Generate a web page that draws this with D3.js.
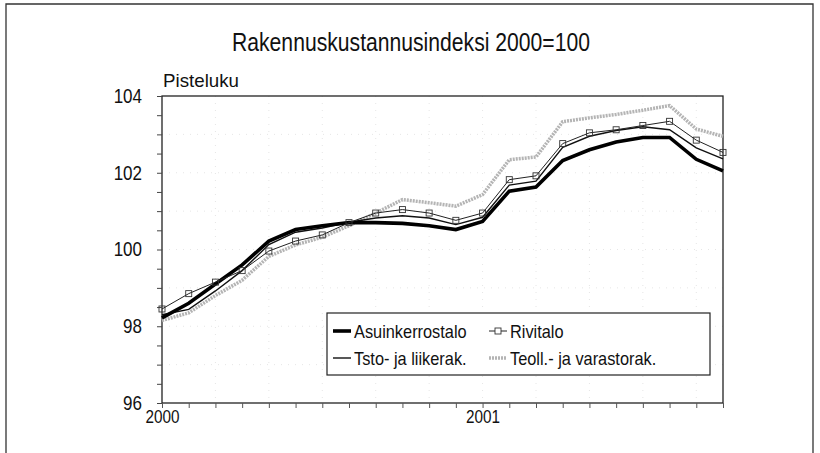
<!DOCTYPE html>
<html>
<head>
<meta charset="utf-8">
<script src="https://cdn.jsdelivr.net/npm/d3@7"></script>
<style>
  body { margin: 0; background: #fff; }
  svg { display: block; font-family: "Liberation Sans", Arial, sans-serif; }
</style>
</head>
<body>
<div id="chart"></div>
<script>
// Months Jan 2000 .. Oct 2001 (index 0..21)
const months = d3.range(0, 22);
const yearLabels = { 0: "2000", 12: "2001" };

const asuinkerrostalo = [98.22, 98.6, 99.1, 99.6, 100.22, 100.52, 100.62, 100.7, 100.7, 100.68, 100.62, 100.52,
                         100.73, 101.52, 101.63, 102.32, 102.6, 102.8, 102.92, 102.92, 102.35, 102.05];
const rivitalo = [98.45, 98.85, 99.15, 99.45, 99.96, 100.22, 100.38, 100.7, 100.95, 101.04, 100.95, 100.76,
                  100.95, 101.82, 101.92, 102.76, 103.04, 103.12, 103.23, 103.34, 102.85, 102.53];
const tstoLiikerak = [98.3, 98.44, 98.92, 99.45, 100.13, 100.45, 100.56, 100.71, 100.82, 100.88, 100.82, 100.65,
                      100.84, 101.68, 101.78, 102.66, 102.95, 103.1, 103.2, 103.12, 102.65, 102.36];
const teollVarastorak = [98.15, 98.35, 98.8, 99.2, 99.82, 100.12, 100.32, 100.62, 100.95, 101.3, 101.22, 101.13,
                         101.43, 102.34, 102.41, 103.33, 103.43, 103.52, 103.63, 103.75, 103.14, 102.95];

const yTicks = d3.range(96, 104.01, 0.5);

// squeeze text horizontally, the original uses a narrow font
function condense(sel, k) {
  sel.each(function() {
    const len = this.getComputedTextLength();
    if (len > 0) {
      d3.select(this).attr("textLength", len * k).attr("lengthAdjust", "spacingAndGlyphs");
    }
  });
}

document.addEventListener("DOMContentLoaded", function() {
  const width = 820, height = 453;
  const svg = d3.select("#chart").append("svg")
    .attr("width", width)
    .attr("height", height);

  // Outer frame (left, top, right)
  svg.append("path")
    .attr("d", "M6,453 V4 H813 V453")
    .attr("fill", "none")
    .attr("stroke", "#333")
    .attr("stroke-width", 1.3);

  // Plot area
  const left = 162, right = 723, top = 96, bottom = 403;
  const x = d3.scaleLinear().domain([0, 21]).range([left, right]);
  const y = d3.scaleLinear().domain([96, 104]).range([bottom, top]);

  // Title and unit label
  svg.append("text")
    .attr("x", 411).attr("y", 51)
    .attr("text-anchor", "middle")
    .style("font-size", "25px")
    .attr("fill", "#111")
    .attr("textLength", 358).attr("lengthAdjust", "spacingAndGlyphs")
    .text("Rakennuskustannusindeksi 2000=100");

  svg.append("text")
    .attr("x", 163).attr("y", 87)
    .style("font-size", "19px")
    .attr("fill", "#111")
    .attr("textLength", 76).attr("lengthAdjust", "spacingAndGlyphs")
    .text("Pisteluku");

  // Faint dotted grid
  const grid = svg.append("g").attr("stroke", "#e6e6e6").attr("stroke-dasharray", "1,6");
  grid.selectAll("line.v").data(months.filter(m => m > 0 && m % 2 === 0))
    .enter().append("line")
    .attr("x1", d => x(d)).attr("x2", d => x(d))
    .attr("y1", top).attr("y2", bottom);
  grid.selectAll("line.h").data(yTicks.filter(v => v > 96 && v < 104 && v % 1 === 0))
    .enter().append("line")
    .attr("x1", left).attr("x2", right)
    .attr("y1", d => y(d)).attr("y2", d => y(d));

  // Plot box
  svg.append("rect")
    .attr("x", left).attr("y", top)
    .attr("width", right - left).attr("height", bottom - top)
    .attr("fill", "none")
    .attr("stroke", "#222")
    .attr("stroke-width", 1.3);

  // Axes
  const yAxis = svg.append("g")
    .attr("transform", `translate(${left},0)`)
    .call(d3.axisLeft(y).tickValues(yTicks).tickSize(5).tickPadding(15)
      .tickFormat(d => (d % 2 === 0 ? d : "")));
  yAxis.select(".domain").remove();
  yAxis.selectAll("text").style("font-size", "20px").attr("fill", "#111").attr("font-family", null);
  yAxis.selectAll("line").attr("stroke", "#444");
  condense(yAxis.selectAll("text"), 0.85);

  const xAxis = svg.append("g")
    .attr("transform", `translate(0,${bottom})`)
    .call(d3.axisBottom(x).tickValues(months).tickSize(5).tickPadding(2)
      .tickFormat(d => yearLabels[d] || ""));
  xAxis.select(".domain").remove();
  xAxis.selectAll("text").style("font-size", "18px").attr("fill", "#111").attr("font-family", null);
  xAxis.selectAll("line").attr("stroke", "#555");
  condense(xAxis.selectAll("text"), 0.85);

  // Series
  const line = d3.line().x((d, i) => x(months[i])).y(d => y(d));

  svg.append("path").datum(teollVarastorak)
    .attr("d", line).attr("fill", "none")
    .attr("stroke", "#b4b4b4").attr("stroke-width", 3.5)
    .attr("stroke-dasharray", "2,1");

  svg.append("path").datum(tstoLiikerak)
    .attr("d", line).attr("fill", "none")
    .attr("stroke", "#111").attr("stroke-width", 1.4);

  svg.append("path").datum(asuinkerrostalo)
    .attr("d", line).attr("fill", "none")
    .attr("stroke", "#000").attr("stroke-width", 3.6);

  svg.append("path").datum(rivitalo)
    .attr("d", line).attr("fill", "none")
    .attr("stroke", "#222").attr("stroke-width", 1);

  svg.append("g").selectAll("rect").data(rivitalo)
    .enter().append("rect")
    .attr("x", (d, i) => x(months[i]) - 3)
    .attr("y", d => y(d) - 3)
    .attr("width", 6).attr("height", 6)
    .attr("fill", "none")
    .attr("stroke", "#333").attr("stroke-width", 0.9);

  // Legend
  const legend = svg.append("g");
  legend.append("rect")
    .attr("x", 327).attr("y", 313)
    .attr("width", 383).attr("height", 62)
    .attr("fill", "#fff")
    .attr("stroke", "#222").attr("stroke-width", 1.2);

  const items = [
    { name: "Asuinkerrostalo", x: 333, y: 331, stroke: "#000", w: 3.6, dash: null, marker: false },
    { name: "Rivitalo", x: 489, y: 331, stroke: "#222", w: 1, dash: null, marker: true },
    { name: "Tsto- ja liikerak.", x: 333, y: 358, stroke: "#111", w: 1.4, dash: null, marker: false },
    { name: "Teoll.- ja varastorak.", x: 489, y: 358, stroke: "#b4b4b4", w: 3.5, dash: "2,1", marker: false }
  ];
  items.forEach(it => {
    legend.append("line")
      .attr("x1", it.x).attr("x2", it.x + 18)
      .attr("y1", it.y).attr("y2", it.y)
      .attr("stroke", it.stroke).attr("stroke-width", it.w)
      .attr("stroke-dasharray", it.dash);
    if (it.marker) {
      legend.append("rect")
        .attr("x", it.x + 6).attr("y", it.y - 3)
        .attr("width", 6).attr("height", 6)
        .attr("fill", "#fff").attr("stroke", "#333").attr("stroke-width", 0.9);
    }
    const t = legend.append("text")
      .attr("x", it.x + 21).attr("y", it.y + 7)
      .style("font-size", "19px")
      .attr("fill", "#111")
      .text(it.name);
    condense(t, 0.86);
  });
});
</script>
</body>
</html>
